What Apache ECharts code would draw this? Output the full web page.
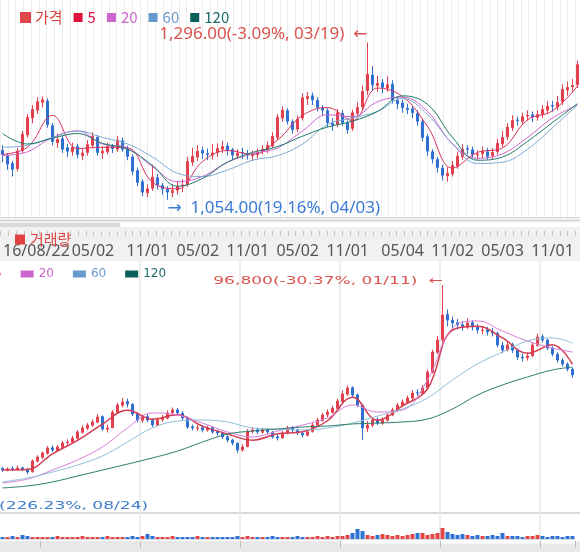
<!DOCTYPE html>
<html><head><meta charset="utf-8">
<script src="https://cdn.jsdelivr.net/npm/echarts@6/dist/echarts.min.js"></script>
<style>html,body{margin:0;padding:0;background:#fff}#c{width:580px;height:552px}</style>
</head><body><div id="c"></div>
<script>
// ---------- DATA ----------
const topLegendNames = ['가격', '5', '20', '60', '120'];
const maNames = ['5', '20', '60', '120'];
const volName = '거래량';
const topNotes = ['(-3.09%, 03/19)', '(19.16%, 04/03)'];
const lowNotes = ['(-30.37%, 01/11)', '(226.23%, 08/24)'];
const axisLabelsTop = ['16/08/22', '05/02', '11/01', '05/02', '11/01', '05/02', '11/01', '05/04', '11/02', '05/03', '11/01'];
const axisLabelIdx = [0, 18, 29, 39, 49, 59, 69, 80, 90, 100, 110];
const lowSplitFirst = 8, lowSplitEvery = 20;

// upper chart candles [open, close, low, high]
const topOHLC = [
[1130,1124,1112,1138],[1122,1109,1100,1126],[1110,1101,1090,1114],[1102,1129,1098,1134],[1130,1155,1126,1160],
[1154,1181,1150,1186],[1180,1193,1172,1200],[1192,1205,1186,1212],[1204,1208,1196,1213],[1206,1170,1165,1210],
[1168,1144,1138,1172],[1142,1147,1134,1156],[1148,1132,1126,1152],[1134,1129,1120,1140],[1128,1135,1122,1142],
[1136,1124,1118,1140],[1122,1126,1115,1133],[1127,1139,1122,1146],[1138,1152,1134,1158],[1150,1127,1122,1154],
[1126,1129,1117,1136],[1128,1136,1124,1142],[1137,1133,1126,1140],[1132,1146,1128,1152],[1145,1132,1128,1150],
[1133,1121,1115,1137],[1120,1098,1092,1124],[1099,1081,1075,1104],[1082,1066,1060,1086],[1065,1071,1058,1078],
[1072,1089,1068,1108],[1088,1077,1070,1094],[1076,1071,1062,1080],[1070,1066,1054,1075],[1065,1068,1058,1078],
[1069,1075,1062,1082],[1076,1077,1066,1086],[1078,1113,1074,1120],[1112,1121,1106,1134],[1120,1129,1114,1138],
[1130,1126,1117,1136],[1125,1124,1115,1133],[1123,1126,1116,1140],[1127,1133,1120,1141],[1132,1136,1126,1145],
[1137,1130,1122,1142],[1131,1123,1116,1134],[1122,1126,1118,1132],[1127,1126,1117,1134],[1125,1123,1116,1131],
[1122,1123,1114,1130],[1124,1127,1118,1133],[1128,1132,1124,1138],[1131,1138,1126,1144],[1137,1152,1134,1158],
[1150,1181,1146,1186],[1180,1192,1174,1198],[1191,1175,1170,1195],[1174,1162,1156,1178],[1163,1178,1158,1184],
[1180,1211,1176,1218],[1210,1213,1200,1220],[1214,1208,1200,1219],[1207,1196,1190,1212],[1195,1192,1184,1200],
[1191,1173,1166,1195],[1172,1169,1160,1180],[1170,1188,1166,1194],[1187,1173,1168,1192],[1172,1162,1156,1176],
[1164,1188,1160,1193],[1187,1196,1182,1204],[1197,1221,1192,1230],[1222,1247,1215,1296],[1246,1231,1222,1260],
[1230,1233,1220,1245],[1234,1227,1218,1240],[1226,1231,1220,1244],[1232,1208,1202,1238],[1207,1202,1194,1212],
[1203,1196,1188,1208],[1195,1193,1186,1202],[1194,1188,1180,1198],[1187,1175,1168,1192],[1174,1150,1144,1178],
[1151,1129,1122,1155],[1128,1117,1110,1132],[1116,1104,1096,1120],[1103,1092,1084,1108],[1091,1095,1082,1104],
[1094,1107,1090,1114],[1106,1121,1102,1128],[1120,1132,1116,1140],[1133,1132,1124,1138],[1131,1124,1118,1136],
[1123,1124,1116,1130],[1125,1129,1118,1136],[1128,1121,1116,1134],[1122,1127,1117,1134],[1128,1141,1124,1148],
[1140,1150,1135,1160],[1151,1166,1146,1172],[1165,1176,1160,1184],[1177,1176,1168,1182],[1175,1182,1170,1188],
[1183,1184,1176,1192],[1185,1182,1174,1190],[1181,1185,1176,1192],[1186,1193,1180,1200],[1192,1198,1186,1206],
[1199,1198,1190,1206],[1197,1204,1192,1214],[1205,1224,1200,1232],[1223,1227,1214,1236],[1228,1230,1220,1240],
[1231,1262,1226,1268]
];
// upper moving averages, one reading every 5 candles
const topMA5   = [1124,1135,1184,1133,1135,1134,1081,1071,1113,1130,1124,1146,1184,1196,1176,1226,1213,1167,1103,1127,1134,1177,1191,1229];
const topMA20  = [1122,1128,1150,1160,1140,1134,1105,1082,1090,1112,1125,1134,1160,1185,1182,1205,1212,1190,1140,1118,1125,1150,1180,1200];
const topMA60  = [1135,1138,1150,1160,1150,1140,1120,1095,1090,1100,1115,1122,1140,1170,1180,1190,1210,1185,1140,1110,1112,1132,1165,1200];
const topMA120 = [1156,1140,1149,1156,1141,1132,1107,1075,1087,1112,1127,1136,1152,1166,1175,1190,1214,1201,1150,1115,1120,1144,1173,1202];

// lower chart candles [open, close, low, high]
const lowOHLC = [
[36900,36350,35700,37300],[36300,36700,35900,37300],[36800,36700,36000,37600],[36600,37000,36200,37800],[37100,36700,36000,37400],
[36600,35700,35000,37000],[35800,39300,35500,39800],[39200,40600,38800,41200],[40500,41900,40000,42400],[41800,43550,41400,44200],
[43600,42900,42200,44400],[42800,43900,42300,44600],[43800,45200,43300,45900],[45300,45500,44600,46400],[45400,46800,44900,47500],
[46700,48800,46300,49400],[48700,50100,48200,50900],[50000,51050,49400,51700],[51000,52050,50500,52900],[52000,53700,51600,54600],
[53800,49750,49200,54200],[49700,50100,48600,51200],[50200,55300,50000,55900],[55200,57600,54800,58300],[57500,58600,56900,59900],
[58700,57900,56800,59700],[57800,54650,54000,58200],[54700,52700,52000,55300],[52600,53700,51800,54500],[53800,52700,52000,54700],
[52600,51050,50400,53200],[51000,52700,50600,53500],[52800,53350,52100,54300],[53300,55000,52900,55800],[55100,55950,54500,56800],
[56000,55000,54300,56600],[54900,53350,52700,55500],[53300,50400,49800,53800],[50500,50100,49300,51200],[50000,50100,49200,51000],
[50200,49450,48700,51000],[49400,50100,48900,50800],[50200,48800,48200,50700],[48900,48450,47600,49500],[48400,47150,46500,48900],
[47200,46150,45400,47700],[46100,45200,44400,46600],[45100,42900,41900,45400],[42900,43900,42400,44800],[44000,49100,43800,49700],
[49000,49450,48300,50300],[49500,48800,48100,50200],[48700,49450,48200,50100],[49400,48800,48000,50000],[48700,47150,46600,49100],
[47200,46800,46000,47900],[46900,48450,46500,49100],[48400,50100,48000,50800],[50200,49450,48800,50700],[49400,48450,47800,49900],
[48400,47800,47100,48900],[47700,48800,47300,49500],[48900,51050,48600,51700],[51000,52700,50500,53400],[52600,54350,52100,55000],
[54400,55300,53600,56200],[55200,56600,54700,57300],[56500,58900,56100,59700],[58800,61200,58200,62400],[61100,63150,60600,64000],
[63200,60850,60200,63700],[60900,57600,56900,61400],[57500,50100,46150,57900],[50000,51050,48800,52400],[51000,52700,50400,53500],
[52800,51700,51000,53600],[51600,52700,51200,53500],[52600,54350,52200,55000],[54300,55950,53900,56700],[55900,57600,55400,58300],
[57500,58600,56900,59400],[58500,59900,58000,60700],[59800,61500,59300,62400],[61600,61500,60500,62800],[61400,63150,60900,64100],
[63200,68400,62800,69100],[68300,74900,67900,75700],[74800,78850,74300,80100],[78900,87000,78000,96800],[87200,85350,83300,88800],
[85300,84400,82700,86500],[84500,83750,82200,85700],[83800,83100,81800,85000],[83000,84400,82400,85900],[84500,83100,81900,85400],
[83000,82100,80900,84100],[82000,82100,80700,83500],[82200,81450,80300,83200],[81500,81100,80000,82800],[81000,77200,76400,81600],
[77100,75550,74500,78200],[75600,77200,75100,78300],[77300,75550,74600,78000],[75500,73300,72300,76000],[73200,72950,71800,74400],
[73000,73600,72100,74800],[73700,77200,73200,78000],[77100,79800,76600,80900],[79900,78850,78000,80600],[78800,76200,75500,79300],
[76100,74250,73500,76800],[74200,72300,71500,74800],[72200,71000,70200,72900],[70900,69350,68600,71500],[69300,67400,66500,69800]
];
const lowMA5   = [36400,36500,41650,46050,51350,55900,52950,54400,50700,48150,46100,48200,48850,52450,60150,52650,57300,62900,82100,83300,79500,74500,77250,70850];
const lowMA20  = [32100,33400,36350,39650,43900,50100,55000,54350,51700,48800,47150,49100,51050,53350,57600,55300,55950,65750,82750,85050,81750,78500,76200,74900];
const lowMA60  = [32450,33750,35700,38000,40950,45500,50100,52350,52700,52050,50100,49750,49450,50100,51700,54000,56300,59900,65750,71050,74900,78500,79500,77850];
const lowMA120 = [30500,31150,32450,34400,36350,38300,40300,42550,45500,48100,49100,49750,50400,50750,51400,51700,52050,53000,56300,60850,64150,66750,69050,70000];
const lowVol = [2,2,3,2,4,3,2,2,
 2,2,2,3,2,2,2,2,3,2,2,2,2,3,2,2,2,2,3,2,
 3,5,3,
 2,2,2,3,2,2,2,2,3,2,2,2,2,2,2,2,3,
 2,3,2,2,2,2,3,2,2,2,2,3,2,2,2,3,2,3,2,3,
 3,4,6,10,8,4,3,
 4,5,4,3,4,3,4,5,6,6,
 4,5,6,11,
 7,5,4,5,4,3,4,
 3,3,4,3,6,3,3,3,2,3,3,4,3,2,3,3,2,3,3];

// ---------- STYLE ----------
const UP = '#e2404e', DOWN = '#2e6fd1';
const topMAColors = ['#d8305e', '#cc66cc', '#7eaad6', '#1f7a6c'];
const lowMAColors = ['#d23c50', '#d77fd7', '#8fbfd9', '#2e7d6e'];
const legendIconColors = ['#dd4b4b', '#e0103c', '#cc66cc', '#6699cc', '#0b5f5a'];
const legendTextColors = ['#d9453f', '#dd1144', '#cc66cc', '#6b9bc9', '#1a6b6b'];

const N1 = topOHLC.length, N2 = lowOHLC.length;
const topCats = topOHLC.map((_, i) => String(i));
const lowCats = lowOHLC.map((_, i) => String(i));
const labelMap = {};
axisLabelIdx.forEach((ix, k) => { labelMap[ix] = axisLabelsTop[k]; });
const sTop = arr => arr.map((v, k) => [Math.min(k * 5, N1 - 1), v]);
const sLow = arr => arr.map((v, k) => [Math.min(k * 5, N2 - 1), v]);
const fmt2 = v => v.toLocaleString('en-US', {minimumFractionDigits: 2, maximumFractionDigits: 2});
const fmt0 = v => v.toLocaleString('en-US');
const lowSplit = i => i >= lowSplitFirst && (i - lowSplitFirst) % lowSplitEvery === 0;

const topMAs = [topMA5, topMA20, topMA60, topMA120];
const lowMAs = [lowMA5, lowMA20, lowMA60, lowMA120];

const series = [];
series.push({
  name: '가격', type: 'candlestick', xAxisIndex: 0, yAxisIndex: 0, barWidth: 3,
  itemStyle: {color: UP, color0: DOWN, borderColor: UP, borderColor0: DOWN, borderWidth: 1},
  data: topOHLC,
  markPoint: {
    symbol: 'circle', symbolSize: 0, animation: false,
    data: [
      {type: 'max', valueDim: 'highest', label: {
        show: true, position: 'left', distance: 0, offset: [0, -8],
        formatter: p => fmt2(p.value) + topNotes[0] + '  ←',
        color: '#d9534f', fontSize: 17, fontFamily: "'Noto Sans', 'DejaVu Sans'"}},
      {type: 'min', valueDim: 'lowest', label: {
        show: true, position: 'right', distance: 0, offset: [0, 8],
        formatter: p => '→  ' + fmt2(p.value) + topNotes[1],
        color: '#3a7bd5', fontSize: 17, fontFamily: "'Noto Sans', 'DejaVu Sans'"}}
    ]
  }
});
topMAs.forEach((arr, k) => series.push({
  name: maNames[k], type: 'line', xAxisIndex: 0, yAxisIndex: 0, data: sTop(arr),
  symbol: 'none', smooth: 0.4, lineStyle: {width: 1, color: topMAColors[k]}, itemStyle: {color: topMAColors[k]}, z: 3
}));
series.push({
  name: 'lower', type: 'candlestick', xAxisIndex: 4, yAxisIndex: 2, barWidth: 3,
  itemStyle: {color: UP, color0: DOWN, borderColor: UP, borderColor0: DOWN, borderWidth: 1},
  data: lowOHLC
});
const lowCandleIdx = series.length - 1;
lowMAs.forEach((arr, k) => series.push({
  name: maNames[k], type: 'line', xAxisIndex: 4, yAxisIndex: 2, data: sLow(arr),
  symbol: 'none', smooth: 0.4, lineStyle: {width: k === 0 ? 1.5 : 1, color: lowMAColors[k]}, itemStyle: {color: lowMAColors[k]}, z: 3
}));
series.push({
  name: volName, type: 'bar', xAxisIndex: 5, yAxisIndex: 3, barWidth: 4,
  itemStyle: {color: '#e04848'},
  data: lowVol.map((v, i) => ({value: v, itemStyle: {color: lowOHLC[i][1] >= lowOHLC[i][0] ? '#e04848' : '#2f72d2'}}))
});

const hidden = {axisLine: {show: false}, axisTick: {show: false}, axisLabel: {show: false}, splitLine: {show: false}};

const option = {
  animation: false,
  backgroundColor: '#ffffff',
  textStyle: {fontFamily: "'Noto Sans', 'DejaVu Sans'"},
  legend: [
    {
      left: 15, top: 5, itemWidth: 9, itemHeight: 9, itemGap: 11, icon: 'rect', selectedMode: false,
      textStyle: {fontSize: 15, fontFamily: "'Noto Sans CJK KR', 'Noto Sans'"},
      data: topLegendNames.map((n, k) => ({name: n, itemStyle: {color: legendIconColors[k]}, textStyle: {color: legendTextColors[k]}}))
    },
    {
      left: -29, top: 263, itemWidth: 13, itemHeight: 7, itemGap: 19, icon: 'rect', selectedMode: false,
      textStyle: {fontSize: 12, fontFamily: "'DejaVu Sans'"},
      data: maNames.map((n, k) => ({name: n, itemStyle: {color: legendIconColors[k + 1]}, textStyle: {color: legendTextColors[k + 1]}}))
    },
    {
      left: 10, top: 227, itemWidth: 10, itemHeight: 10, icon: 'rect', selectedMode: false,
      textStyle: {fontSize: 15, color: '#e04848', fontFamily: "'Noto Sans CJK KR', 'Noto Sans'"},
      data: [{name: volName, itemStyle: {color: '#e04040'}}]
    }
  ],
  grid: [
    {left: 0, right: 0, top: 0, height: 217},
    {left: 0, right: 0, top: 231, height: 5},
    {left: 0, right: 5, top: 262, height: 250},
    {left: 0, right: 5, top: 514, height: 25},
    {left: 0, right: 5, top: 261, height: 280}
  ],
  xAxis: [
    {type: 'category', gridIndex: 0, data: topCats, show: false},
    {type: 'value', gridIndex: 0, min: 0, max: 74.6, interval: 1, ...hidden,
      splitLine: {show: true, lineStyle: {color: '#ececec', width: 1}}},
    {type: 'category', gridIndex: 1, data: topCats, position: 'bottom',
      axisLine: {show: false}, axisTick: {show: false}, splitLine: {show: false},
      axisLabel: {show: true, interval: (i) => labelMap[i] !== undefined, formatter: (v, i) => labelMap[i] || '',
        margin: 7, fontSize: 16, color: '#555', fontFamily: "'Noto Sans'", alignMinLabel: 'left', hideOverlap: false}},
    {type: 'value', gridIndex: 1, position: 'top', min: 0, max: 74.6, interval: 1,
      axisLine: {show: false}, axisLabel: {show: false}, splitLine: {show: false},
      axisTick: {show: true, inside: true, length: 5, lineStyle: {color: '#c4c4c4'}}},
    {type: 'category', gridIndex: 2, data: lowCats, show: false},
    {type: 'category', gridIndex: 3, data: lowCats, ...hidden,
      axisLine: {show: true, lineStyle: {color: '#d5dbe5'}}},
    {type: 'category', gridIndex: 4, data: lowCats,
      axisLine: {show: false}, axisLabel: {show: false},
      axisTick: {show: true, interval: lowSplit, length: 7, lineStyle: {color: '#bdbdbd', width: 1}},
      splitLine: {show: true, interval: lowSplit, showMinLine: false, showMaxLine: false,
        lineStyle: {color: '#e9e9e9', width: 1.5}}}
  ],
  yAxis: [
    {type: 'value', gridIndex: 0, min: 1027.7, max: 1361.4, show: false},
    {type: 'value', gridIndex: 1, min: 0, max: 1, show: false},
    {type: 'value', gridIndex: 2, min: 22640, max: 104315, show: false},
    {type: 'value', gridIndex: 3, min: 0, max: 25, show: false},
    {type: 'value', gridIndex: 4, min: 0, max: 1, show: false}
  ],
  series: series
};

const chart = echarts.init(document.getElementById('c'), null, {renderer: 'canvas', width: 580, height: 552});
chart.setOption(option);

// annotation of lower chart maximum, anchored through the library's coordinate conversion
let maxI = 0;
lowOHLC.forEach((r, i) => { if (r[3] > lowOHLC[maxI][3]) maxI = i; });
const maxH = lowOHLC[maxI][3];
const p = chart.convertToPixel({seriesIndex: lowCandleIdx}, [maxI, maxH]);

chart.setOption({
  graphic: {elements: [
    {type: 'rect', id: 'strip', z: -100, shape: {x: 0, y: 217, width: 580, height: 44}, style: {fill: '#f1f1f1'}},
    {type: 'line', id: 'sep1', z: -99, shape: {x1: 0, y1: 217.5, x2: 580, y2: 217.5}, style: {stroke: '#d6d6d6', lineWidth: 1}},
    {type: 'line', id: 'sep2', z: -99, shape: {x1: 0, y1: 220.5, x2: 580, y2: 220.5}, style: {stroke: '#cccccc', lineWidth: 1}},
    {type: 'rect', id: 'track', z: -99, shape: {x: 0, y: 223, width: 120, height: 4}, style: {fill: '#d9d9d9'}},
    {type: 'rect', id: 'thumb', z: -99, shape: {x: 120, y: 223, width: 460, height: 4, r: 2}, style: {fill: '#ffffff'}},
    {type: 'line', id: 'sep3', z: -99, shape: {x1: 0, y1: 513, x2: 580, y2: 513}, style: {stroke: '#cfcfcf', lineWidth: 1.5}},
    {type: 'rect', id: 'bstrip', z: -100, shape: {x: 0, y: 541, width: 580, height: 11}, style: {fill: '#e8e8e8'}},
    {type: 'rect', id: 'bthumb', z: -99, shape: {x: 339, y: 541.5, width: 238, height: 2, r: 1}, style: {fill: '#ffffff'}},
    {type: 'text', id: 'lowMax', z: 50, x: p[0], y: p[1] - 4, scaleX: 1.55, scaleY: 1,
      style: {text: fmt0(maxH) + lowNotes[0] + '  ←', fontSize: 11, fontFamily: 'DejaVu Sans', fill: '#d9534f',
        align: 'right', verticalAlign: 'middle', textAlign: 'right', textVerticalAlign: 'middle'}},
    {type: 'text', id: 'lowMin', z: 50, x: -1, y: 506, scaleX: 1.55, scaleY: 1,
      style: {text: lowNotes[1], fontSize: 11, fontFamily: 'DejaVu Sans', fill: '#3f7bc9',
        align: 'left', verticalAlign: 'middle', textAlign: 'left', textVerticalAlign: 'middle'}}
  ]}
});
</script></body></html>
